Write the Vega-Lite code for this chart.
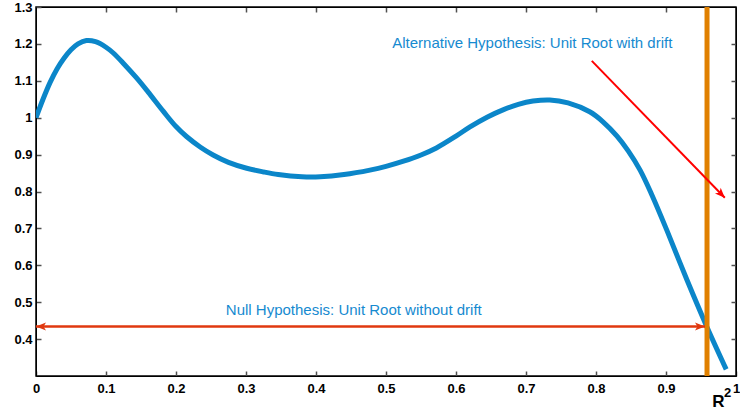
{
  "$schema": "https://vega.github.io/schema/vega-lite/v6.json",
  "width": 700,
  "height": 369,
  "autosize": {"type": "none"},
  "padding": {"left": 36, "top": 7, "right": 4, "bottom": 36},
  "config": {
    "view": {"stroke": "black", "strokeWidth": 1.5},
    "axis": {
      "grid": false,
      "labelFont": "Liberation Sans",
      "labelFontWeight": "bold",
      "labelFontSize": 13,
      "labelColor": "black",
      "domainColor": "black",
      "labelFlush": false,
      "labelOverlap": false,
      "titleFont": "Liberation Sans",
      "titleColor": "black"
    }
  },
  "datasets": {
    "curve": [
      {"x": 0.000, "y": 1.000},
      {"x": 0.010, "y": 1.050},
      {"x": 0.020, "y": 1.095},
      {"x": 0.030, "y": 1.132},
      {"x": 0.040, "y": 1.161},
      {"x": 0.050, "y": 1.184},
      {"x": 0.060, "y": 1.200},
      {"x": 0.072, "y": 1.209},
      {"x": 0.085, "y": 1.206},
      {"x": 0.100, "y": 1.191},
      {"x": 0.110, "y": 1.176},
      {"x": 0.125, "y": 1.147},
      {"x": 0.144, "y": 1.107},
      {"x": 0.160, "y": 1.070},
      {"x": 0.182, "y": 1.017},
      {"x": 0.200, "y": 0.976},
      {"x": 0.215, "y": 0.949},
      {"x": 0.235, "y": 0.920},
      {"x": 0.253, "y": 0.899},
      {"x": 0.275, "y": 0.879},
      {"x": 0.301, "y": 0.863},
      {"x": 0.325, "y": 0.853},
      {"x": 0.346, "y": 0.846},
      {"x": 0.380, "y": 0.840},
      {"x": 0.406, "y": 0.840},
      {"x": 0.440, "y": 0.846},
      {"x": 0.477, "y": 0.858},
      {"x": 0.500, "y": 0.868},
      {"x": 0.525, "y": 0.882},
      {"x": 0.550, "y": 0.899},
      {"x": 0.572, "y": 0.918},
      {"x": 0.600, "y": 0.950},
      {"x": 0.620, "y": 0.975},
      {"x": 0.645, "y": 1.002},
      {"x": 0.668, "y": 1.022},
      {"x": 0.689, "y": 1.036},
      {"x": 0.710, "y": 1.045},
      {"x": 0.734, "y": 1.048},
      {"x": 0.760, "y": 1.040},
      {"x": 0.791, "y": 1.016},
      {"x": 0.810, "y": 0.989},
      {"x": 0.830, "y": 0.950},
      {"x": 0.846, "y": 0.910},
      {"x": 0.863, "y": 0.858},
      {"x": 0.880, "y": 0.790},
      {"x": 0.901, "y": 0.696},
      {"x": 0.930, "y": 0.560},
      {"x": 0.958, "y": 0.435},
      {"x": 0.986, "y": 0.318}
    ],
    "nullArrow": [{"x": 0.0, "x2": 0.9557, "y": 0.434}],
    "nullHeads": [{"x": 0.0, "y": 0.434, "angle": 180}, {"x": 0.9557, "y": 0.434, "angle": 0}],
    "altArrow": [{"x": 0.794, "y": 1.154, "x2": 0.984, "y2": 0.783}],
    "altHead": [{"x": 0.984, "y": 0.783, "angle": 45.8}],
    "threshold": [{"x": 0.9586}],
    "labels": [
      {"x": 0.454, "y": 0.479, "text": "Null Hypothesis: Unit Root without drift"},
      {"x": 0.709, "y": 1.202, "text": "Alternative Hypothesis: Unit Root with drift"}
    ]
  },
  "layer": [
    {
      "data": {"name": "curve"},
      "mark": {"type": "line", "color": "#0b86c9", "strokeWidth": 5, "interpolate": "catmull-rom", "clip": true},
      "encoding": {
        "x": {
          "field": "x", "type": "quantitative",
          "scale": {"domain": [0, 1], "nice": false, "zero": false},
          "axis": {"orient": "bottom", "ticks": true, "tickSize": -5, "tickWidth": 1.5, "tickColor": "#505050", "values": [0, 0.1, 0.2, 0.3, 0.4, 0.5, 0.6, 0.7, 0.8, 0.9, 1], "format": "~g", "labelPadding": 11, "title": "R", "titleFontSize": 17, "titleFontWeight": "bold", "titleAlign": "center", "titleAnchor": null, "titleX": 682, "titleY": 30, "titleBaseline": "alphabetic"}
        },
        "y": {
          "field": "y", "type": "quantitative",
          "scale": {"domain": [0.3, 1.3], "nice": false, "zero": false},
          "axis": {"orient": "left", "ticks": true, "tickSize": -5, "tickWidth": 1.5, "tickColor": "#505050", "values": [0.4, 0.5, 0.6, 0.7, 0.8, 0.9, 1, 1.1, 1.2, 1.3], "format": "~g", "labelPadding": 9, "title": null}
        }
      }
    },
    {
      "data": {"name": "threshold"},
      "mark": {"type": "rule", "color": "#e08000", "strokeWidth": 5},
      "encoding": {
        "x": {"field": "x", "type": "quantitative", "axis": null}
      }
    },
    {
      "data": {"name": "nullArrow"},
      "mark": {"type": "rule", "color": "#e0380f", "strokeWidth": 2.5},
      "encoding": {
        "x": {"field": "x", "type": "quantitative", "axis": {"orient": "top", "ticks": true, "tickSize": -5, "tickWidth": 1.5, "tickColor": "#505050", "labels": false, "values": [0.1, 0.2, 0.3, 0.4, 0.5, 0.6, 0.7, 0.8, 0.9], "title": null}},
        "x2": {"field": "x2"},
        "y": {"field": "y", "type": "quantitative", "axis": {"orient": "right", "ticks": true, "tickSize": -5, "tickWidth": 1.5, "tickColor": "#505050", "labels": false, "values": [0.4, 0.5, 0.6, 0.7, 0.8, 0.9, 1, 1.1, 1.2], "title": "2", "titleFontSize": 13, "titleFontWeight": "bold", "titleAngle": 0, "titleAlign": "center", "titleBaseline": "middle", "titleAnchor": null, "titleX": -9, "titleY": 385}}
      }
    },
    {
      "data": {"name": "nullHeads"},
      "mark": {"type": "point", "shape": "M0,0 L-2,-0.8 L-1.5,0 L-2,0.8 Z", "filled": true, "color": "#e0380f", "size": 100, "opacity": 1},
      "encoding": {
        "x": {"field": "x", "type": "quantitative", "axis": null},
        "y": {"field": "y", "type": "quantitative", "axis": null},
        "angle": {"field": "angle", "type": "quantitative", "scale": null}
      }
    },
    {
      "data": {"name": "altArrow"},
      "mark": {"type": "rule", "color": "#ff0000", "strokeWidth": 2},
      "encoding": {
        "x": {"field": "x", "type": "quantitative", "axis": null},
        "y": {"field": "y", "type": "quantitative", "axis": null},
        "x2": {"field": "x2"},
        "y2": {"field": "y2"}
      }
    },
    {
      "data": {"name": "altHead"},
      "mark": {"type": "point", "shape": "M0,0 L-2,-0.8 L-1.5,0 L-2,0.8 Z", "filled": true, "color": "#ff0000", "size": 100, "opacity": 1},
      "encoding": {
        "x": {"field": "x", "type": "quantitative", "axis": null},
        "y": {"field": "y", "type": "quantitative", "axis": null},
        "angle": {"field": "angle", "type": "quantitative", "scale": null}
      }
    },
    {
      "data": {"name": "labels"},
      "mark": {"type": "text", "font": "Liberation Sans", "fontSize": 15, "color": "#168ad0", "align": "center", "baseline": "middle"},
      "encoding": {
        "x": {"field": "x", "type": "quantitative", "axis": null},
        "y": {"field": "y", "type": "quantitative", "axis": null},
        "text": {"field": "text"}
      }
    }
  ],
  "resolve": {"axis": {"x": "independent", "y": "independent"}}
}
